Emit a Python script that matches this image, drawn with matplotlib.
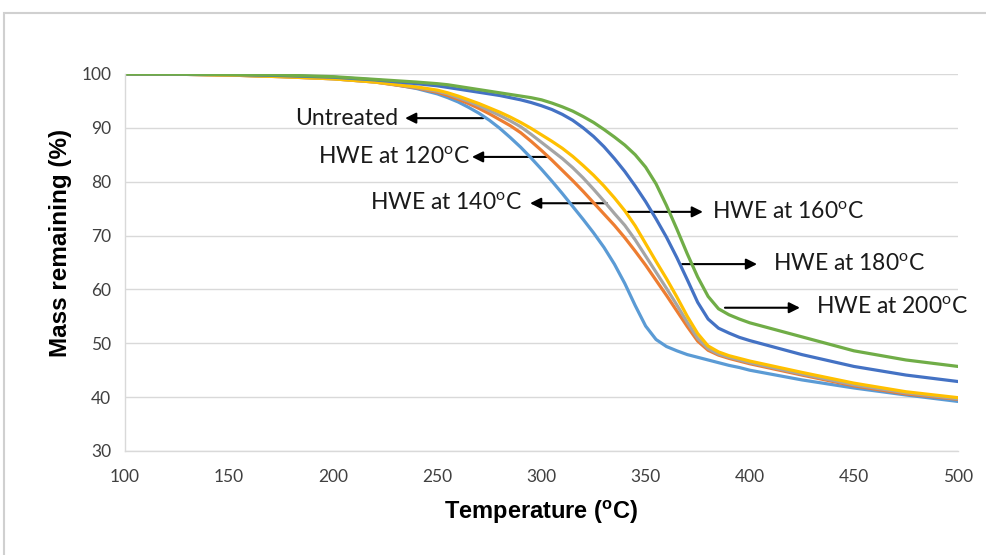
import matplotlib
matplotlib.use("Agg")
import matplotlib.pyplot as plt
from matplotlib.patches import FancyArrowPatch, Rectangle

# TGA curves (temperature in degC, mass remaining in %)
temperature = [100, 125, 150, 175, 200, 220, 240,
               250, 255, 260, 265, 270, 275, 280, 285, 290, 295, 300,
               305, 310, 315, 320, 325, 330, 335, 340, 345, 350,
               355, 360, 365, 370, 375, 380, 385, 390, 395, 400,
               425, 450, 475, 500]

untreated = [100, 99.95, 99.8, 99.6, 99.3, 98.7, 97.3,
             96.3, 95.6, 94.8, 93.8, 92.7, 91.4, 89.9, 88.2, 86.4, 84.4, 82.3,
             80.1, 77.8, 75.4, 73.0, 70.5, 67.8, 64.7, 61.1, 57.0, 53.2,
             50.7, 49.4, 48.6, 47.9, 47.4, 46.9, 46.4, 45.9, 45.5, 45.0,
             43.2, 41.7, 40.4, 39.2]
hwe_120 = [100, 99.95, 99.8, 99.5, 99.1, 98.5, 97.4,
           96.6, 96.0, 95.3, 94.5, 93.6, 92.6, 91.5, 90.4, 89.1, 87.5, 85.8,
           84.0, 82.1, 80.2, 78.2, 76.1, 74.0, 71.9, 69.6, 67.1, 64.5,
           61.7, 58.9, 56.0, 53.1, 50.4, 48.7, 47.8, 47.2, 46.7, 46.2,
           44.1, 42.1, 40.6, 39.6]
hwe_140 = [100, 99.95, 99.8, 99.5, 99.1, 98.5, 97.5,
           96.8, 96.3, 95.6, 94.9, 94.1, 93.2, 92.3, 91.3, 90.2, 88.8, 87.3,
           85.8, 84.3, 82.6, 80.7, 78.6, 76.4, 74.1, 71.9, 69.2, 66.2,
           63.2, 60.2, 57.1, 53.9, 50.9, 49.0, 48.0, 47.4, 46.9, 46.4,
           44.3, 42.3, 40.8, 39.7]
hwe_160 = [100, 99.95, 99.8, 99.5, 99.1, 98.5, 97.6,
           97.0, 96.5, 95.9, 95.2, 94.5, 93.7, 92.9, 92.0, 91.0, 89.9, 88.7,
           87.5, 86.2, 84.7, 83.0, 81.2, 79.2, 77.0, 74.6, 71.8, 68.5,
           65.2, 62.0, 58.6, 55.0, 51.8, 49.5, 48.4, 47.7, 47.2, 46.7,
           44.6, 42.6, 41.0, 39.9]
hwe_180 = [100, 99.98, 99.9, 99.7, 99.4, 98.9, 98.2,
           97.8, 97.5, 97.2, 96.9, 96.6, 96.3, 96.0, 95.6, 95.2, 94.7, 94.1,
           93.4, 92.5, 91.4, 90.0, 88.4, 86.5, 84.3, 81.9, 79.2, 76.3,
           73.1, 69.7, 65.9, 61.8, 57.6, 54.5, 52.8, 51.9, 51.1, 50.5,
           47.9, 45.7, 44.1, 42.9]
hwe_200 = [100, 99.98, 99.9, 99.8, 99.5, 99.0, 98.5,
           98.2, 98.0, 97.7, 97.4, 97.1, 96.8, 96.5, 96.2, 95.9, 95.6, 95.2,
           94.6, 93.9, 93.1, 92.1, 91.0, 89.7, 88.3, 86.8, 85.0, 82.7,
           79.6, 75.6, 71.2, 66.6, 62.3, 58.7, 56.4, 55.3, 54.5, 53.8,
           51.2, 48.6, 46.9, 45.7]

series = [untreated, hwe_120, hwe_140, hwe_160, hwe_180, hwe_200]
colors = ["#5B9BD5", "#ED7D31", "#A5A5A5", "#FFC000", "#4472C4", "#70AD47"]

# arrow labels: text, arrow tail x, arrow y, arrow head x, text x, text alignment
labels = ["Untreated", "HWE at 120$^{\\mathregular{o}}$C", "HWE at 140$^{\\mathregular{o}}$C",
          "HWE at 160$^{\\mathregular{o}}$C", "HWE at 180$^{\\mathregular{o}}$C",
          "HWE at 200$^{\\mathregular{o}}$C"]
arrow_tail_x = [272.0, 303.1, 331.4, 341.5, 367.5, 388.1]
arrow_y = [91.8, 84.6, 76.0, 74.4, 64.7, 56.6]
arrow_head_x = [234.5, 266.6, 294.5, 377.5, 403.5, 424.1]
text_x = [231.0, 265.8, 290.6, 381.9, 411.2, 431.8]
text_side = ["right", "right", "right", "left", "left", "left"]

fig = plt.figure(figsize=(9.86, 5.55), dpi=100)
ax = fig.add_axes([0.1268, 0.1874, 0.8448, 0.6793])

# outer frame of the pasted chart
fig.patches.append(Rectangle((4 / 986, -0.2), 1.2, 1.2 - 13 / 555, transform=fig.transFigure,
                             fill=False, edgecolor="#D0D0D0", linewidth=1.5))

for y, c in zip(series, colors):
    ax.plot(temperature, y, color=c, linewidth=2.3, solid_capstyle="round",
            solid_joinstyle="round")

ax.set_xlim(100, 500)
ax.set_ylim(30, 100)
ax.set_xticks(range(100, 501, 50))
ax.set_yticks(range(30, 101, 10))
ax.grid(axis="y", color="#D9D9D9", linewidth=1.0)
ax.set_axisbelow(True)
for s in ["top", "right"]:
    ax.spines[s].set_visible(False)
for s in ["left", "bottom"]:
    ax.spines[s].set_color("#D9D9D9")
    ax.spines[s].set_linewidth(1.0)
ax.tick_params(length=0, labelsize=12.5, labelcolor="#404040")
ax.tick_params(axis="y", pad=10)
ax.tick_params(axis="x", pad=13)
for t in ax.get_xticklabels() + ax.get_yticklabels():
    t.set_fontfamily("Lato")

ax.set_xlabel("Temperature ($^{\\mathregular{o}}$C)", fontsize=17, fontweight="bold",
              family="Liberation Sans", va="center")
ax.set_ylabel("Mass remaining (%)", fontsize=17.5, fontweight="bold",
              family="Liberation Sans", va="center")
ax.xaxis.set_label_coords(0.4994, -0.162)
ax.yaxis.set_label_coords(-0.078, 0.552)

for lab, x0, y0, x1, tx, side in zip(labels, arrow_tail_x, arrow_y, arrow_head_x, text_x, text_side):
    arr = FancyArrowPatch((x0, y0), (x1, y0), arrowstyle="-|>", mutation_scale=16,
                          color="black", linewidth=1.5, shrinkA=0, shrinkB=0)
    ax.add_patch(arr)
    ax.text(tx, y0, lab, ha=side, va="center", fontsize=16.5, family="Lato", color="#1a1a1a")

fig.savefig("out.png", dpi=100)
